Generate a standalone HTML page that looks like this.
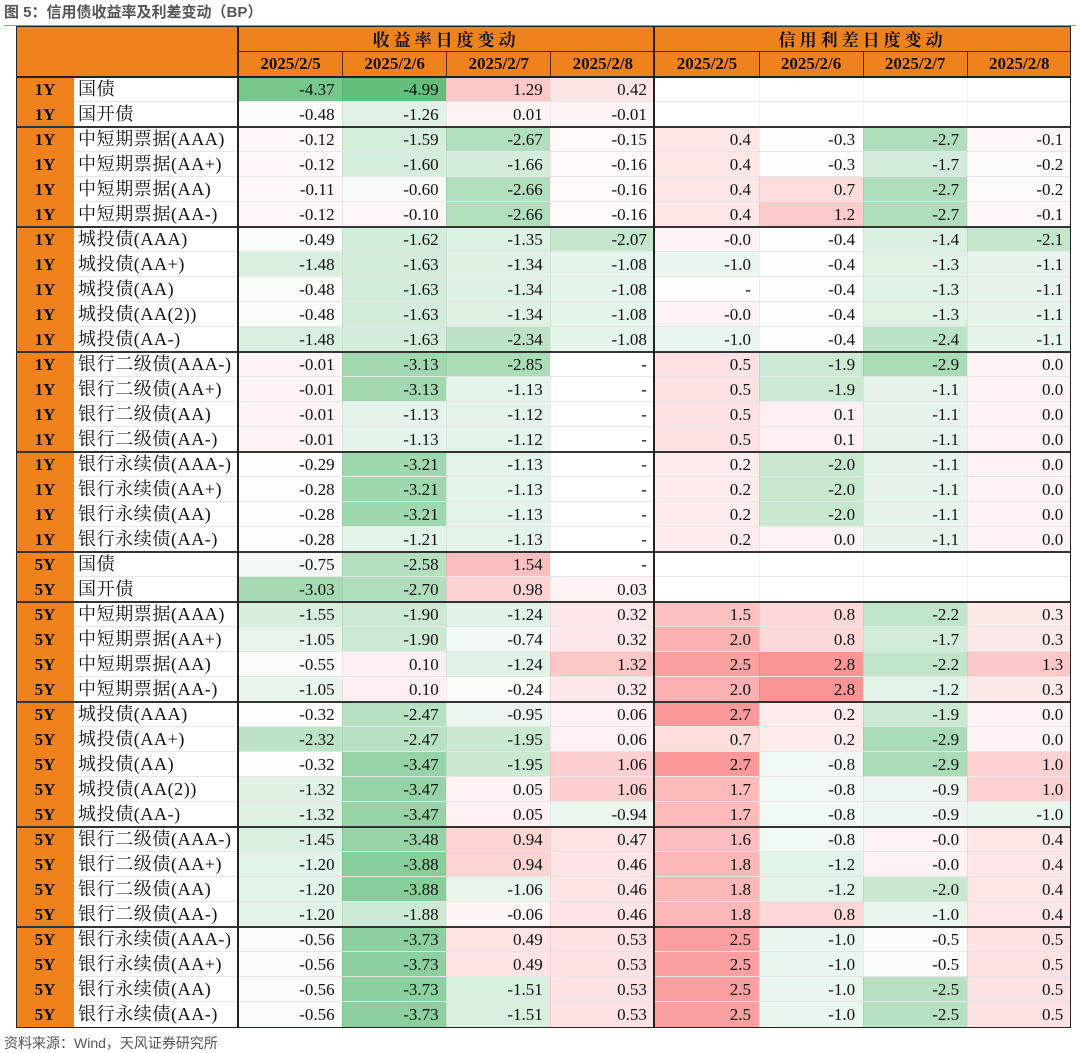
<!DOCTYPE html>
<html><head><meta charset="utf-8"><style>
body{margin:0;width:1080px;height:1052px;background:#fff;position:relative;overflow:hidden;font-family:"Liberation Serif","Noto Serif CJK SC",serif;}
.a{position:absolute;box-sizing:border-box;}
.c{font-size:17px;line-height:25px;height:25px;color:#111;}
.num{text-align:right;padding-right:8px;}
</style></head><body>
<div class="a" style="left:4px;top:1px;font:bold 15px 'Liberation Sans','Noto Sans CJK SC',sans-serif;color:#555;">图 5：信用债收益率及利差变动（BP）</div>
<div class="a" style="left:4px;top:25px;width:1072px;height:1px;background:#F0821E;"></div>
<div id="tbl" class="a" style="left:0;top:0;width:1080px;height:1052px;"></div>
<div class="a" style="left:4px;top:1033px;font:14px 'Liberation Sans','Noto Sans CJK SC',sans-serif;color:#555;">资料来源：Wind，天风证券研究所</div>
<script>
const dates=["2025/2/5","2025/2/6","2025/2/7","2025/2/8"];
const tenors=["1Y","1Y","1Y","1Y","1Y","1Y","1Y","1Y","1Y","1Y","1Y","1Y","1Y","1Y","1Y","1Y","1Y","1Y","1Y","5Y","5Y","5Y","5Y","5Y","5Y","5Y","5Y","5Y","5Y","5Y","5Y","5Y","5Y","5Y","5Y","5Y","5Y","5Y"];
const names=["国债","国开债","中短期票据(AAA)","中短期票据(AA+)","中短期票据(AA)","中短期票据(AA-)","城投债(AAA)","城投债(AA+)","城投债(AA)","城投债(AA(2))","城投债(AA-)","银行二级债(AAA-)","银行二级债(AA+)","银行二级债(AA)","银行二级债(AA-)","银行永续债(AAA-)","银行永续债(AA+)","银行永续债(AA)","银行永续债(AA-)","国债","国开债","中短期票据(AAA)","中短期票据(AA+)","中短期票据(AA)","中短期票据(AA-)","城投债(AAA)","城投债(AA+)","城投债(AA)","城投债(AA(2))","城投债(AA-)","银行二级债(AAA-)","银行二级债(AA+)","银行二级债(AA)","银行二级债(AA-)","银行永续债(AAA-)","银行永续债(AA+)","银行永续债(AA)","银行永续债(AA-)"];
const yieldChg=[
["-4.37","-4.99","1.29","0.42"],["-0.48","-1.26","0.01","-0.01"],
["-0.12","-1.59","-2.67","-0.15"],["-0.12","-1.60","-1.66","-0.16"],["-0.11","-0.60","-2.66","-0.16"],["-0.12","-0.10","-2.66","-0.16"],
["-0.49","-1.62","-1.35","-2.07"],["-1.48","-1.63","-1.34","-1.08"],["-0.48","-1.63","-1.34","-1.08"],["-0.48","-1.63","-1.34","-1.08"],["-1.48","-1.63","-2.34","-1.08"],
["-0.01","-3.13","-2.85","-"],["-0.01","-3.13","-1.13","-"],["-0.01","-1.13","-1.12","-"],["-0.01","-1.13","-1.12","-"],
["-0.29","-3.21","-1.13","-"],["-0.28","-3.21","-1.13","-"],["-0.28","-3.21","-1.13","-"],["-0.28","-1.21","-1.13","-"],
["-0.75","-2.58","1.54","-"],["-3.03","-2.70","0.98","0.03"],
["-1.55","-1.90","-1.24","0.32"],["-1.05","-1.90","-0.74","0.32"],["-0.55","0.10","-1.24","1.32"],["-1.05","0.10","-0.24","0.32"],
["-0.32","-2.47","-0.95","0.06"],["-2.32","-2.47","-1.95","0.06"],["-0.32","-3.47","-1.95","1.06"],["-1.32","-3.47","0.05","1.06"],["-1.32","-3.47","0.05","-0.94"],
["-1.45","-3.48","0.94","0.47"],["-1.20","-3.88","0.94","0.46"],["-1.20","-3.88","-1.06","0.46"],["-1.20","-1.88","-0.06","0.46"],
["-0.56","-3.73","0.49","0.53"],["-0.56","-3.73","0.49","0.53"],["-0.56","-3.73","-1.51","0.53"],["-0.56","-3.73","-1.51","0.53"]];
const spreadChg=[
["","","",""],["","","",""],
["0.4","-0.3","-2.7","-0.1"],["0.4","-0.3","-1.7","-0.2"],["0.4","0.7","-2.7","-0.2"],["0.4","1.2","-2.7","-0.1"],
["-0.0","-0.4","-1.4","-2.1"],["-1.0","-0.4","-1.3","-1.1"],["-","-0.4","-1.3","-1.1"],["-0.0","-0.4","-1.3","-1.1"],["-1.0","-0.4","-2.4","-1.1"],
["0.5","-1.9","-2.9","0.0"],["0.5","-1.9","-1.1","0.0"],["0.5","0.1","-1.1","0.0"],["0.5","0.1","-1.1","0.0"],
["0.2","-2.0","-1.1","0.0"],["0.2","-2.0","-1.1","0.0"],["0.2","-2.0","-1.1","0.0"],["0.2","0.0","-1.1","0.0"],
["","","",""],["","","",""],
["1.5","0.8","-2.2","0.3"],["2.0","0.8","-1.7","0.3"],["2.5","2.8","-2.2","1.3"],["2.0","2.8","-1.2","0.3"],
["2.7","0.2","-1.9","0.0"],["0.7","0.2","-2.9","0.0"],["2.7","-0.8","-2.9","1.0"],["1.7","-0.8","-0.9","1.0"],["1.7","-0.8","-0.9","-1.0"],
["1.6","-0.8","-0.0","0.4"],["1.8","-1.2","-0.0","0.4"],["1.8","-1.2","-2.0","0.4"],["1.8","0.8","-1.0","0.4"],
["2.5","-1.0","-0.5","0.5"],["2.5","-1.0","-0.5","0.5"],["2.5","-1.0","-2.5","0.5"],["2.5","-1.0","-2.5","0.5"]];
const groupEnds=[1,5,10,14,18,20,24,29,33];

const T=document.getElementById('tbl');
const L=16,R=1071,TOP=26,RH=25,DT=77,X1=74,X2=238,CW=104.1;
const OR='#F0821E';
function box(x,y,w,h,css){const d=document.createElement('div');d.className='a';d.style.cssText=`left:${x}px;top:${y}px;width:${w}px;height:${h}px;`+(css||'');T.appendChild(d);return d;}
function color(s){
  if(s===''||s==='-')return '#fff';
  const v=parseFloat(s),mid=-0.35;
  if(v<mid){const t=Math.min(1,(mid-v)/(mid+4.99));return `rgb(${Math.round(255-t*156)},${Math.round(255-t*65)},${Math.round(255-t*132)})`;}
  const t=Math.min(1,(v-mid)/(4.1-mid));return `rgb(${Math.round(255-t*7)},${Math.round(255-t*150)},${Math.round(255-t*148)})`;
}
let h=box(L,TOP,R-L,DT-TOP,`background:${OR};`);


h=box(X2,TOP,4*CW,25,'font:bold 17px/25px "Noto Serif CJK SC",serif;text-align:center;letter-spacing:4px;color:#111;');
h.textContent='收益率日度变动';


h=box(X2+4*CW,TOP,4*CW,25,'font:bold 17px/25px "Noto Serif CJK SC",serif;text-align:center;letter-spacing:4px;color:#111;');
h.textContent='信用利差日度变动';


box(X2,TOP+25,R-X2,1,'background:#4a2a10;');
for(let j=0;j<8;j++){
  const d=box(X2+j*CW,TOP+25,CW,26,'font:bold 17px/26px "Liberation Serif",serif;text-align:center;color:#111;border-left:1px solid #4a2a10;');
  d.textContent=dates[j%4];
  
  
}
for(let i=0;i<names.length;i++){
  const y=DT+i*RH;
  let d=box(L,y,X1-L,RH,`background:${OR};font:bold 17px/25px "Liberation Serif",serif;text-align:center;color:#111;`);
  d.textContent=tenors[i];
  
  
  d=box(X1,y,X2-X1,RH,'font:18px/25px "Liberation Serif","Noto Serif CJK SC",serif;letter-spacing:0.6px;padding-left:4px;color:#111;white-space:nowrap;');
  d.textContent=names[i];
  
  
  for(let j=0;j<8;j++){
    const s=j<4?yieldChg[i][j]:spreadChg[i][j-4];
    d=box(X2+j*CW,y,CW+0.5,RH,`background:${color(s)};`);
    d.className='a c num';
    d.textContent=s;
    
    
  }
  if(i<names.length-1) box(X1,y+RH-1,R-X1,1,'background:#e6e6e6;');
}
for(let j=1;j<8;j++) if(j!==4) box(X2+j*CW,DT,1,38*RH,'background:rgba(0,0,0,0.06);');
box(L,DT-1,R-L,2,'background:#222;');
groupEnds.forEach(g=>box(L,DT+(g+1)*RH-1,R-L,2,'background:#333;'));
box(X2-1,TOP,2,DT-TOP+38*RH,'background:#222;');
box(X2+4*CW-1,TOP,2,DT-TOP+38*RH,'background:#222;');
box(L,TOP,R-L,DT-TOP+38*RH+1,'border:1.5px solid #222;');
</script>
</body></html>
